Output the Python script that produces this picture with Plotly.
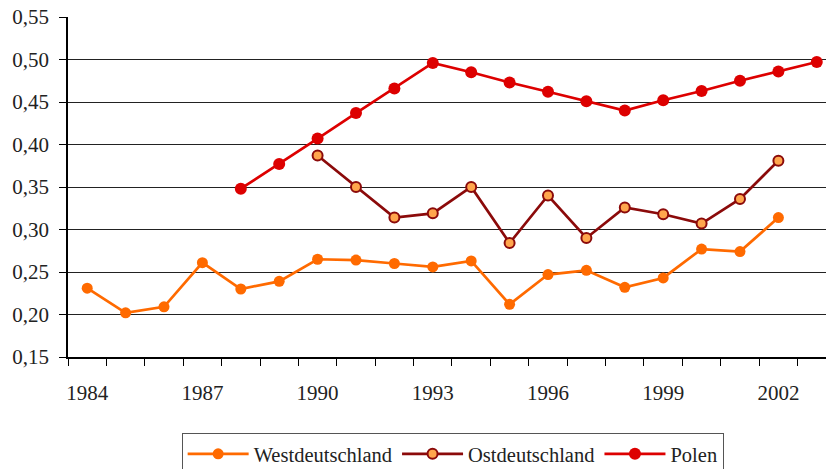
import plotly.graph_objects as go

years_west = list(range(1984, 2003))
west = [0.231, 0.202, 0.209, 0.261, 0.230, 0.239, 0.265, 0.264, 0.260, 0.256,
        0.263, 0.212, 0.247, 0.252, 0.232, 0.243, 0.277, 0.274, 0.314]

years_ost = list(range(1990, 2003))
ost = [0.387, 0.350, 0.314, 0.319, 0.350, 0.284, 0.340, 0.290, 0.326, 0.318,
       0.307, 0.336, 0.381]

years_polen = list(range(1988, 2004))
polen = [0.348, 0.377, 0.407, 0.437, 0.466, 0.496, 0.485, 0.473, 0.462, 0.451,
         0.440, 0.452, 0.463, 0.475, 0.486, 0.497]

tick_years = [1984, 1987, 1990, 1993, 1996, 1999, 2002]

FONT = "Liberation Serif, Times New Roman, serif"

fig = go.Figure()
fig.add_trace(go.Scatter(
    x=years_west, y=west, name="Westdeutschland", mode="lines+markers",
    line=dict(color="#FF6A00", width=2.7),
    marker=dict(color="#FF6A00", size=11),
))
fig.add_trace(go.Scatter(
    x=years_ost, y=ost, name="Ostdeutschland", mode="lines+markers",
    line=dict(color="#8B0A0A", width=2.7),
    marker=dict(color="#FFA64D", size=10, line=dict(color="#8B0A0A", width=2)),
))
fig.add_trace(go.Scatter(
    x=years_polen, y=polen, name="Polen", mode="lines+markers",
    line=dict(color="#DD0000", width=2.7),
    marker=dict(color="#DD0000", size=12),
))

fig.update_layout(
    width=826, height=469,
    margin=dict(l=68, r=0, t=17, b=112, autoexpand=False),
    paper_bgcolor="white", plot_bgcolor="white",
    separators=",.",
    font=dict(family=FONT, size=21, color="#222222"),
    showlegend=True,
    legend=dict(
        orientation="h", x=0.548, xanchor="center", xref="container",
        y=1 - 433 / 469, yanchor="top", yref="container",
        bordercolor="#555555", borderwidth=1,
        font=dict(family=FONT, size=20.5, color="#222222"),
        itemwidth=61, tracegroupgap=0,
    ),
)

fig.update_xaxes(
    range=[1983.5, 2003.24], automargin=False,
    tickvals=tick_years, ticktext=[str(y) for y in tick_years],
    ticks="", showgrid=False, zeroline=False,
    showline=True, linecolor="black", linewidth=1.5,
    ticklabelstandoff=16,
    tickfont=dict(family=FONT, size=21, color="#222222"),
    minor=dict(ticks="outside", tick0=1983.5, dtick=1, ticklen=7,
               tickcolor="black", tickwidth=1, showgrid=False),
)
fig.update_yaxes(
    range=[0.15, 0.55], dtick=0.05, tick0=0.15, tickformat=".2f",
    automargin=False,
    showgrid=True, gridcolor="#222222", gridwidth=1,
    zeroline=False, showline=True, linecolor="black", linewidth=1.5,
    ticks="outside", ticklen=7, tickcolor="black",
    ticklabelstandoff=6,
    tickfont=dict(family=FONT, size=21, color="#222222"),
)

fig.write_html("out.html", config={"displayModeBar": False},
               post_script="document.body.style.margin='0px';")
